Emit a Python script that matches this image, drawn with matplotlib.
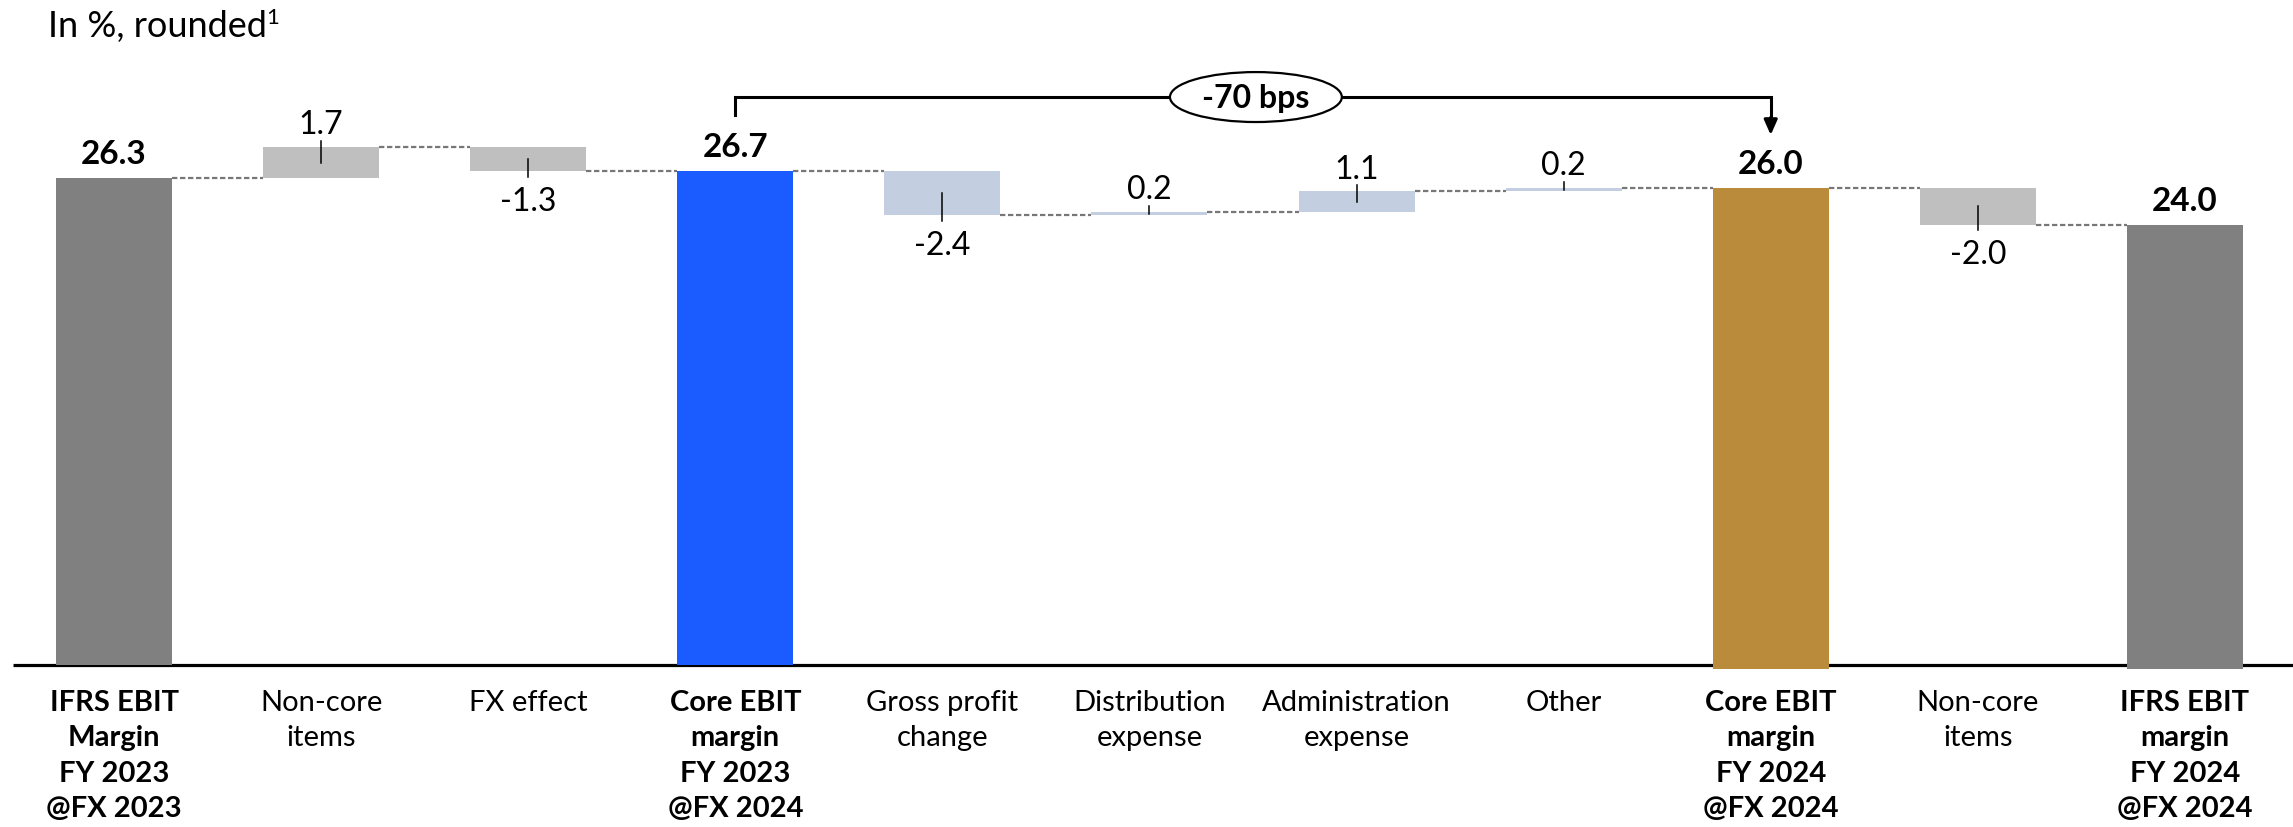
import matplotlib
matplotlib.use("Agg")
import matplotlib.pyplot as plt
from matplotlib.patches import Ellipse
import matplotlib.transforms as mtransforms

plt.rcParams["font.family"] = ["Lato", "DejaVu Sans"]

# === Daten (in %, gerundet) ===
categories = [
    "IFRS EBIT\nMargin\nFY 2023\n@FX 2023",
    "Non-core\nitems",
    "FX effect",
    "Core EBIT\nmargin\nFY 2023\n@FX 2024",
    "Gross profit\nchange",
    "Distribution\nexpense",
    "Administration\nexpense",
    "Other",
    "Core EBIT\nmargin\nFY 2024\n@FX 2024",
    "Non-core\nitems",
    "IFRS EBIT\nmargin\nFY 2024\n@FX 2024",
]
values = [26.3, 1.7, -1.3, 26.7, -2.4, 0.2, 1.1, 0.2, 26.0, -2.0, 24.0]
is_total = [True, False, False, True, False, False, False, False, True, False, True]
bar_colors = ["#808080", "#BFBFBF", "#BFBFBF", "#1A5CFF", "#C3CEE0", "#C3CEE0",
              "#C3CEE0", "#C3CEE0", "#B98B3B", "#BFBFBF", "#808080"]
bracket_from, bracket_to = 3, 8
bracket_text = f"{round((values[bracket_to] - values[bracket_from]) * 100)} bps"

# === Waterfall-Ebenen berechnen ===
bottoms, tops = [], []
level = 0.0
for i, v in enumerate(values):
    if is_total[i]:
        top = v if i == 0 else level
        bottom = top - v
    else:
        bottom, top = sorted([level, level + v])
    bottoms.append(bottom)
    tops.append(top)
    level = top if (is_total[i] or v > 0) else bottom

fig = plt.figure(figsize=(22.93, 8.28), dpi=100)
ax = fig.add_axes([0, 0, 1, 1])
ax.set_xlim(-0.5505, 10.522)
ax.set_ylim(-8.757, 36.0)
ax.axis("off")

x = list(range(len(values)))
w = 0.56
ax.bar(x, [t - b for t, b in zip(tops, bottoms)], bottom=bottoms, width=w,
       color=bar_colors, zorder=3)

# Grundlinie
ax.plot([-0.49, 10.6], [0, 0], color="black", lw=2.3, zorder=2, solid_capstyle="butt")

# Verbindungslinien
levels_after = []
lv = 0.0
for i, v in enumerate(values):
    lv = tops[i] if is_total[i] else lv + v
    levels_after.append(lv)
for i in range(len(values) - 1):
    ax.plot([i + w / 2, i + 1 - w / 2], [levels_after[i]] * 2, color="#777777",
            lw=1.6, dashes=(2.4, 1.2), zorder=2)

def offset(pts):
    return mtransforms.offset_copy(ax.transData, fig=fig, x=0, y=pts, units="points")

# Werte und Hinweisstriche
for i, v in enumerate(values):
    if is_total[i]:
        ax.text(i, tops[i], f"{v:.1f}", ha="center", va="baseline", fontsize=24,
                fontweight="bold", transform=offset(10.8), zorder=4)
        continue
    mid = (tops[i] + bottoms[i]) / 2
    if v > 0:
        ax.plot([i, i], [tops[i] + 0.32, mid], color="black", lw=1.1, zorder=4)
        ax.text(i, tops[i], f"{v:.1f}", ha="center", va="baseline", fontsize=23,
                transform=offset(10.0), zorder=4)
    else:
        ax.plot([i, i], [mid, bottoms[i] - 0.3], color="black", lw=1.1, zorder=4)
        ax.text(i, bottoms[i], f"{v:.1f}", ha="center", va="baseline", fontsize=23,
                transform=offset(-27.8), zorder=4)

# Kategorien
for i, c in enumerate(categories):
    ax.text(i, 0, c, ha="center", va="top", fontsize=21, linespacing=1.45,
            fontweight="bold" if is_total[i] else "normal",
            transform=offset(-17), zorder=4)

# Klammer -70 bps
yb = 30.7
ax.plot([bracket_from, bracket_from, bracket_to, bracket_to],
        [29.73, yb, yb, 29.5], color="black", lw=2.2, zorder=4,
        solid_joinstyle="miter")
ax.annotate("", xy=(bracket_to, 28.65), xytext=(bracket_to, 29.6),
            arrowprops=dict(arrowstyle="-|>,head_length=0.9,head_width=0.4",
                            color="black", lw=2.2, shrinkA=0, shrinkB=0), zorder=4)
xm = (bracket_from + bracket_to) / 2
ax.add_patch(Ellipse((xm + 0.014, yb), 0.83, 2.7, facecolor="white",
                     edgecolor="black", lw=1.6, zorder=5))
ax.text(xm + 0.014, yb, bracket_text, ha="center", va="center", fontsize=23,
        fontweight="bold", zorder=6)

# Titel mit Fußnotenzeichen
title = fig.text(48 / 2293, 1 - 37 / 828, "In %, rounded", ha="left", va="baseline",
                 fontsize=26)
fig.canvas.draw()
bb = title.get_window_extent()
fig.text((bb.x1 - 1) / 2293, 1 - 24 / 828, "1", ha="left", va="baseline", fontsize=16)

fig.savefig("out.png", dpi=100)
